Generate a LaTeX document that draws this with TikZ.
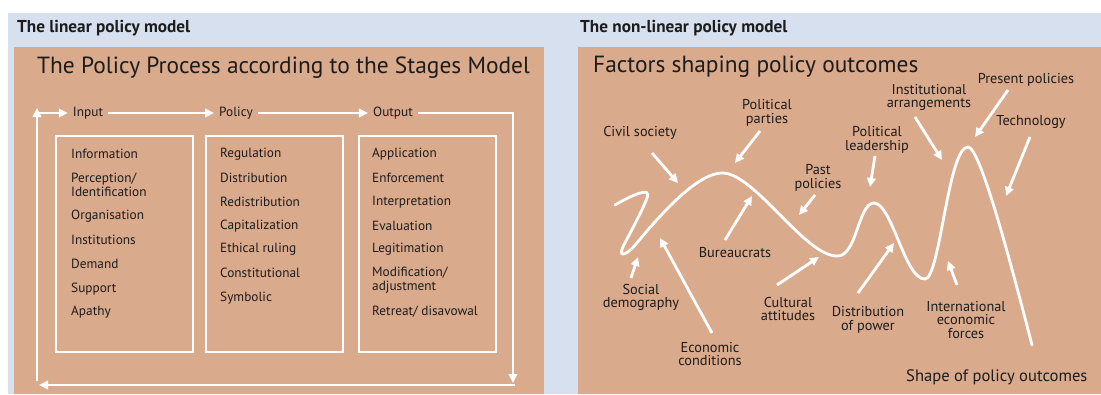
\documentclass[tikz,border=0pt]{standalone}
\usepackage{fontspec}
\setmainfont{PT Sans}
\usetikzlibrary{arrows.meta}
\definecolor{salmon}{RGB}{218,170,140}
\definecolor{paleblue}{RGB}{214,224,238}
\definecolor{txt}{RGB}{28,28,28}
\begin{document}
\begin{tikzpicture}[x=1pt,y=-1pt,
  wline/.style={white,line width=2.8pt},
  warr/.style={white,line width=2.8pt,-{Triangle[length=9pt,width=8.5pt]}},
  wbox/.style={draw=white,line width=2.8pt},
  ttl/.style={font=\fontsize{17.2}{19}\bfseries\selectfont,text=txt,anchor=west,inner sep=0},
  hdg/.style={font=\fontsize{23.4}{26}\selectfont,text=txt,anchor=west,inner sep=0},
  itm/.style={font=\fontsize{13.3}{14}\selectfont,text=txt,anchor=west,inner sep=0,align=left},
  stage/.style={font=\fontsize{13.3}{14}\selectfont,text=txt,inner ysep=0,inner xsep=5pt},
  lbl/.style={font=\fontsize{14.3}{13.8}\selectfont,text=txt,inner sep=0,align=center},
  curve/.style={white,line width=2.8pt,line cap=round}]
\useasboundingbox (0,0) rectangle (1101,394);
% backgrounds
\fill[white] (0,0) rectangle (1101,394);
\fill[paleblue] (8,13) rectangle (1101,394);
\fill[salmon] (14,47) rectangle (544,394);
\fill[salmon] (578,47) rectangle (1101,394);
% titles
\node[ttl] (t1) at (17,28) {The linear policy model};
\node[ttl] (t2) at (580,28) {The non-linear policy model};
\node[hdg] (h1) at (37,68) {The Policy Process according to the Stages Model};
\node[hdg] (h2) at (593,67) {Factors shaping policy outcomes};
% ---------- left panel ----------
\node[stage] (in) at (88,113) {Input};
\node[stage] (po) at (236,113) {Policy};
\node[stage] (ou) at (393,113) {Output};
\coordinate (lt) at (37,108);
\coordinate (lc) at (37,113);
\coordinate (lb) at (37,381);
\coordinate (rt) at (513,113);
\coordinate (rb) at (513,383);
\coordinate (br) at (515,385);
\coordinate (bl) at (39,385);
\draw[warr] (lb) -- (lt);
\draw[warr] (lc) -- (in.west);
\draw[warr] (in.east) -- (po.west);
\draw[warr] (po.east) -- (ou.west);
\draw[warr] (ou.east) -- (rt) -- (rb);
\draw[warr] (br) -- (bl);
\draw[wbox] (56,136) rectangle (193,352);
\draw[wbox] (206,136) rectangle (343,352);
\draw[wbox] (359,136) rectangle (496,352);
% column 1
\node[itm] (a1) at (71,154) {Information};
\node[itm] (a2) at (71,185) {Perception/\\Identification};
\node[itm] (a3) at (71,216) {Organisation};
\node[itm] (a4) at (71,240) {Institutions};
\node[itm] (a5) at (71,264) {Demand};
\node[itm] (a6) at (71,289) {Support};
\node[itm] (a7) at (71,312) {Apathy};
% column 2
\node[itm] (b1) at (220,154) {Regulation};
\node[itm] (b2) at (220,178) {Distribution};
\node[itm] (b3) at (220,202) {Redistribution};
\node[itm] (b4) at (220,226) {Capitalization};
\node[itm] (b5) at (220,249) {Ethical ruling};
\node[itm] (b6) at (220,273) {Constitutional};
\node[itm] (b7) at (220,298) {Symbolic};
% column 3
\node[itm] (c1) at (372,154) {Application};
\node[itm] (c2) at (372,178) {Enforcement};
\node[itm] (c3) at (372,202) {Interpretation};
\node[itm] (c4) at (372,226) {Evaluation};
\node[itm] (c5) at (372,249) {Legitimation};
\node[itm] (c6) at (372,280) {Modification/\\adjustment};
\node[itm] (c7) at (372,312) {Retreat/ disavowal};
% ---------- right panel ----------
\draw[curve] (615,205) .. controls (632,195) and (652,186) .. (647,198)
 .. controls (642,212) and (626,240) .. (622,249)
 .. controls (619,258) and (628,254) .. (636,244)
 .. controls (660,215) and (698,172) .. (723,173)
 .. controls (755,174) and (805,256) .. (837,256)
 .. controls (857,257) and (858,203) .. (874,203)
 .. controls (892,203) and (905,280) .. (925,279)
 .. controls (940,279) and (948,147) .. (968,147)
 .. controls (980,147) and (1010,260) .. (1032,345);
\node[lbl] (pres) at (1026,80) {Present policies};
\node[lbl] (inst) at (929,97.5) {Institutional\\arrangements};
\node[lbl] (tech) at (1031,122) {Technology};
\node[lbl] (ppar) at (767,113) {Political\\parties};
\node[lbl] (civ) at (640,133) {Civil society};
\node[lbl] (plead) at (877,140) {Political\\leadership};
\node[lbl] (past) at (818,177.5) {Past\\policies};
\node[lbl] (bur) at (735,253) {Bureaucrats};
\node[lbl] (soc) at (641,297.5) {Social\\demography};
\node[lbl] (eco) at (710,354) {Economic\\conditions};
\node[lbl] (cult) at (788,309) {Cultural\\attitudes};
\node[lbl] (dist) at (868,320) {Distribution\\of power};
\node[lbl] (intl) at (966,320) {International\\economic\\forces};
\node[lbl,font=\fontsize{16.6}{18}\selectfont,anchor=west] (shape) at (906,377) {Shape of policy outcomes};
% arrows
\coordinate (civS) at (652,153); \coordinate (civT) at (678,183);
\coordinate (pparS) at (760,131); \coordinate (pparT) at (735,163);
\coordinate (pastS) at (815,195); \coordinate (pastT) at (799,215);
\coordinate (pleadS) at (875,156); \coordinate (pleadT) at (870,187);
\coordinate (instS) at (915,117); \coordinate (instT) at (942,160);
\coordinate (presS) at (1008,90); \coordinate (presT) at (975,137);
\coordinate (techS) at (1030,137); \coordinate (techT) at (1006,196);
\coordinate (burS) at (725,240); \coordinate (burT) at (752,196);
\coordinate (socS) at (631,278); \coordinate (socT) at (638,257);
\coordinate (ecoS) at (712,333); \coordinate (ecoT) at (660,238);
\coordinate (cultS) at (777,285); \coordinate (cultT) at (819,257);
\coordinate (distS) at (858,293); \coordinate (distT) at (894,243);
\coordinate (intlS) at (957,285); \coordinate (intlT) at (948,261);
\foreach \n in {civ,ppar,past,plead,inst,pres,tech,bur,soc,eco,cult,dist,intl}
  \draw[warr] (\n S) -- (\n T);
\end{tikzpicture}
\end{document}
